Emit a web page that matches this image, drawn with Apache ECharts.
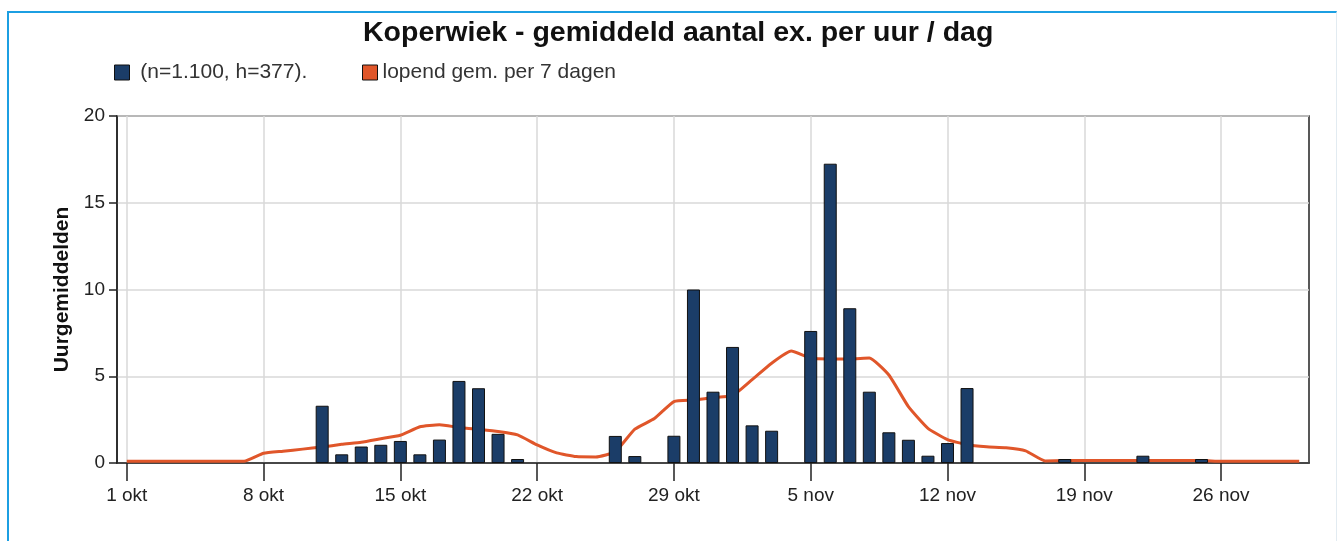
<!DOCTYPE html>
<html>
<head>
<meta charset="utf-8">
<script src="https://cdn.jsdelivr.net/npm/echarts@6/dist/echarts.min.js"></script>
<style>
html,body{margin:0;padding:0;background:#fff;}
#chart{position:absolute;left:0;top:0;width:1342px;height:541px;}
#frame{position:absolute;left:7px;top:11px;width:1327px;height:600px;border-top:2px solid #1c9fe2;border-left:2px solid #1c9fe2;border-right:1px solid #e2ebf1;pointer-events:none;}
</style>
</head>
<body>
<div id="chart"></div>
<div id="frame"></div>
<script>
// Categories: 1 okt .. 30 nov
const months = [["okt", 31], ["nov", 30]];
const categories = [];
months.forEach(function (m) { for (let d = 1; d <= m[1]; d++) categories.push(d + " " + m[0]); });

const titleText = "Koperwiek - gemiddeld aantal ex. per uur / dag";
const barName = "(n=1.100, h=377).";
const lineName = "lopend gem. per 7 dagen";
const yAxisName = "Uurgemiddelden";

// daily hourly averages (null = no observation)
const barValues = [
  null, null, null, null, null, null, null, null, null, null,   // 1-10 okt
  3.3, 0.5, 0.95, 1.05, 1.27, 0.5, 1.35, 4.73, 4.31, 1.68,      // 11-20 okt
  0.23, null, null, null, null, 1.56, 0.4, null, 1.57, 10.0,    // 21-30 okt
  4.11,                                                         // 31 okt
  6.69, 2.17, 1.86, null, 7.61, 17.25, 8.92, 4.11, 1.77, 1.34,  // 1-10 nov
  0.42, 1.15, 4.32, null, null, null, null, 0.23, null, null,   // 11-20 nov
  null, 0.42, null, null, 0.23, null, null, null, null, null    // 21-30 nov
];

// 7-day running mean
const lineValues = [
  0.1, 0.1, 0.1, 0.1, 0.1, 0.1, 0.1, 0.56, 0.68, 0.8,           // 1-10 okt
  0.92, 1.08, 1.2, 1.4, 1.6, 2.09, 2.2, 2.05, 1.94, 1.82,       // 11-20 okt
  1.62, 1.04, 0.58, 0.37, 0.35, 0.65, 1.95, 2.56, 3.54, 3.63,   // 21-30 okt
  3.77,                                                         // 31 okt
  3.88, 4.8, 5.75, 6.45, 6.05, 6.0, 6.0, 6.05, 5.07, 3.25,      // 1-10 nov
  2.0, 1.35, 1.05, 0.93, 0.88, 0.7, 0.12, 0.14, 0.14, 0.14,     // 11-20 nov
  0.14, 0.14, 0.14, 0.14, 0.14, 0.1, 0.1, 0.1, 0.1, 0.1         // 21-30 nov
];

const yTicks = { min: 0, max: 20, interval: 5 };

const barColor = "#1b3d68";
const lineColor = "#e0562a";
const font = "Liberation Sans, Arial, sans-serif";

const chart = echarts.init(document.getElementById("chart"), null, { renderer: "canvas" });
chart.setOption({
  animation: false,
  backgroundColor: "transparent",
  title: {
    text: titleText,
    left: 363,
    top: 19,
    padding: 0,
    textStyle: { fontFamily: font, fontSize: 28.5, fontWeight: "bold", color: "#111" }
  },
  legend: [
    {
      data: [{ name: barName, icon: "rect", itemStyle: { color: barColor, borderColor: "#111", borderWidth: 1 } }],
      left: 114, top: 62, itemWidth: 15, itemHeight: 15, padding: 0,
      formatter: function (n) { return " " + n; },
      textStyle: { fontFamily: font, fontSize: 21, color: "#333" }
    },
    {
      data: [{ name: lineName, icon: "rect", itemStyle: { color: lineColor, borderColor: "#111", borderWidth: 1 } }],
      left: 362, top: 62, itemWidth: 15, itemHeight: 15, padding: 0,
      textStyle: { fontFamily: font, fontSize: 21, color: "#333" }
    }
  ],
  grid: {
    left: 117, top: 116, right: 33, bottom: 78,
    show: true, borderColor: "#222", borderWidth: 1.5, backgroundColor: "transparent"
  },
  xAxis: {
    type: "category",
    data: categories,
    boundaryGap: true,
    axisLine: { lineStyle: { color: "#222", width: 1.5 } },
    axisTick: { show: true, alignWithLabel: true, interval: 6, length: 18, lineStyle: { color: "#222", width: 1.5 } },
    axisLabel: { interval: 6, margin: 23, fontFamily: font, fontSize: 19, color: "#222" },
    splitLine: { show: true, interval: 6, alignWithLabel: true, lineStyle: { color: "#d8d8d8", width: 1.5 } }
  },
  yAxis: {
    type: "value",
    min: yTicks.min, max: yTicks.max, interval: yTicks.interval,
    name: yAxisName,
    nameLocation: "middle",
    nameGap: 42,
    nameTextStyle: { fontFamily: font, fontSize: 21, fontWeight: "bold", color: "#111" },
    axisLine: { show: true, lineStyle: { color: "#222", width: 1.5 } },
    axisTick: { show: true, length: 8, lineStyle: { color: "#222", width: 1.5 } },
    axisLabel: { margin: 12, fontFamily: font, fontSize: 19, color: "#222" },
    splitLine: { show: true, lineStyle: { color: "#d8d8d8", width: 1.5 } }
  },
  series: [
    {
      name: lineName,
      type: "line",
      data: lineValues,
      z: 1,
      smooth: 0.15,
      showSymbol: false,
      symbol: "none",
      lineStyle: { color: lineColor, width: 3 },
      itemStyle: { color: lineColor }
    },
    {
      name: barName,
      type: "bar",
      data: barValues,
      z: 2,
      barWidth: 13,
      itemStyle: { color: barColor, borderColor: "#111", borderWidth: 1 }
    }
  ]
});
</script>
</body>
</html>
